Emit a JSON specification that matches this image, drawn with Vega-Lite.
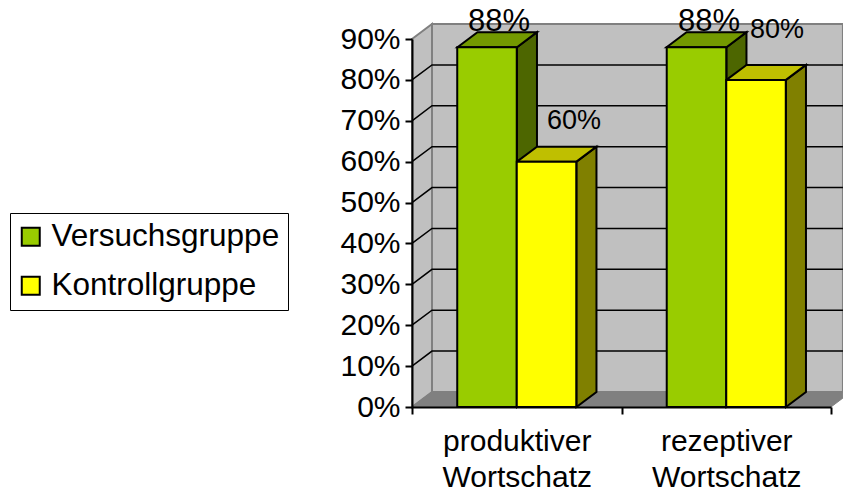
{
"$schema":"https://vega.github.io/schema/vega-lite/v6.json",
"width":419,"height":368,
"autosize":{"type":"none"},
"padding":{"left":412,"top":39,"right":12,"bottom":86},
"background":"white",
"config":{"view":{"stroke":null},"font":"Liberation Sans"},
"datasets":{
"faces":[
{"poly":"floor","x":0,"low":0,"high":0},{"poly":"floor","x":0.0955,"low":0,"high":3.67},{"poly":"floor","x":2,"low":0,"high":3.67},{"poly":"floor","x":2.057,"low":2.2,"high":3.67},
{"poly":"leftwall","x":0,"low":0,"high":90},{"poly":"leftwall","x":0.0955,"low":3.67,"high":93.67},
{"poly":"backwall","x":0.0955,"low":3.67,"high":93.67},{"poly":"backwall","x":2.057,"low":3.67,"high":93.67},
{"poly":"gs1","x":0.501,"low":0,"high":88},{"poly":"gs1","x":0.5965,"low":3.67,"high":91.67},
{"poly":"gs2","x":1.501,"low":0,"high":88},{"poly":"gs2","x":1.5965,"low":3.67,"high":91.67},
{"poly":"ys1","x":0.785,"low":0,"high":60},{"poly":"ys1","x":0.8805,"low":3.67,"high":63.67},
{"poly":"ys2","x":1.785,"low":0,"high":80},{"poly":"ys2","x":1.8805,"low":3.67,"high":83.67},
{"poly":"gt1","x":0.217,"low":88,"high":88},{"poly":"gt1","x":0.3125,"low":88,"high":91.67},{"poly":"gt1","x":0.501,"low":88,"high":91.67},{"poly":"gt1","x":0.5965,"low":91.67,"high":91.67},
{"poly":"gt2","x":1.215,"low":88,"high":88},{"poly":"gt2","x":1.3105,"low":88,"high":91.67},{"poly":"gt2","x":1.501,"low":88,"high":91.67},{"poly":"gt2","x":1.5965,"low":91.67,"high":91.67},
{"poly":"yt1","x":0.501,"low":60,"high":60},{"poly":"yt1","x":0.5965,"low":60,"high":63.67},{"poly":"yt1","x":0.785,"low":60,"high":63.67},{"poly":"yt1","x":0.8805,"low":63.67,"high":63.67},
{"poly":"yt2","x":1.501,"low":80,"high":80},{"poly":"yt2","x":1.5965,"low":80,"high":83.67},{"poly":"yt2","x":1.785,"low":80,"high":83.67},{"poly":"yt2","x":1.8805,"low":83.67,"high":83.67}
],
"grid":[
{"level":10,"x":0,"y":10},{"level":10,"x":0.0955,"y":13.67},{"level":10,"x":2.057,"y":13.67},
{"level":20,"x":0,"y":20},{"level":20,"x":0.0955,"y":23.67},{"level":20,"x":2.057,"y":23.67},
{"level":30,"x":0,"y":30},{"level":30,"x":0.0955,"y":33.67},{"level":30,"x":2.057,"y":33.67},
{"level":40,"x":0,"y":40},{"level":40,"x":0.0955,"y":43.67},{"level":40,"x":2.057,"y":43.67},
{"level":50,"x":0,"y":50},{"level":50,"x":0.0955,"y":53.67},{"level":50,"x":2.057,"y":53.67},
{"level":60,"x":0,"y":60},{"level":60,"x":0.0955,"y":63.67},{"level":60,"x":2.057,"y":63.67},
{"level":70,"x":0,"y":70},{"level":70,"x":0.0955,"y":73.67},{"level":70,"x":2.057,"y":73.67},
{"level":80,"x":0,"y":80},{"level":80,"x":0.0955,"y":83.67},{"level":80,"x":2.057,"y":83.67}
],
"bars":[
{"kategorie":"produktiver Wortschatz","gruppe":"Versuchsgruppe","wert":88},
{"kategorie":"produktiver Wortschatz","gruppe":"Kontrollgruppe","wert":60},
{"kategorie":"rezeptiver Wortschatz","gruppe":"Versuchsgruppe","wert":88},
{"kategorie":"rezeptiver Wortschatz","gruppe":"Kontrollgruppe","wert":80}
],
"labels":[
{"x":0.415,"y":91.9,"text":"88%","size":"big"},
{"x":1.418,"y":91.9,"text":"88%","size":"big"},
{"x":0.773,"y":68,"text":"60%","size":"small"},
{"x":1.742,"y":90.2,"text":"80%","size":"small"}
]
},
"resolve":{"scale":{"x":"independent"}},
"layer":[
{"data":{"name":"faces"},"transform":[{"filter":"datum.poly==='leftwall'||datum.poly==='backwall'"}],
 "mark":{"type":"area","fill":"#c0c0c0","stroke":"#808080","strokeWidth":2},
 "encoding":{"x":{"field":"x","type":"quantitative","scale":{"domain":[0,2],"nice":false,"zero":false},"axis":null},
 "y":{"field":"high","type":"quantitative","scale":{"domain":[0,90],"nice":false,"zero":false},
  "axis":{"title":null,"values":[0,10,20,30,40,50,60,70,80,90],"labelExpr":"datum.value+'%'","labelFontSize":30,"labelColor":"black","labelPadding":5,"tickSize":7,"tickColor":"black","tickWidth":2,"domainColor":"black","domainWidth":2,"grid":false,"zindex":1,"labelFlush":false,"labelOverlap":false}},
 "y2":{"field":"low"},"detail":{"field":"poly"}}},
{"data":{"name":"faces"},"transform":[{"filter":"datum.poly==='floor'"}],
 "mark":{"type":"area","fill":"#808080","stroke":"#808080","strokeWidth":1},
 "encoding":{"x":{"field":"x","type":"quantitative","scale":{"domain":[0,2],"nice":false,"zero":false},"axis":null},"y":{"field":"high","type":"quantitative"},"y2":{"field":"low"}}},
{"data":{"name":"grid"},
 "mark":{"type":"line","stroke":"black","strokeWidth":1.5},
 "encoding":{"x":{"field":"x","type":"quantitative","scale":{"domain":[0,2],"nice":false,"zero":false},"axis":null},"y":{"field":"y","type":"quantitative"},"detail":{"field":"level"}}},
{"data":{"name":"faces"},"transform":[{"filter":"datum.poly==='gs1'||datum.poly==='gs2'"}],
 "mark":{"type":"area","fill":"#4d6600","stroke":"black","strokeWidth":2},
 "encoding":{"x":{"field":"x","type":"quantitative","scale":{"domain":[0,2],"nice":false,"zero":false},"axis":null},"y":{"field":"high","type":"quantitative"},"y2":{"field":"low"},"detail":{"field":"poly"}}},
{"data":{"name":"faces"},"transform":[{"filter":"datum.poly==='ys1'||datum.poly==='ys2'"}],
 "mark":{"type":"area","fill":"#808000","stroke":"black","strokeWidth":2},
 "encoding":{"x":{"field":"x","type":"quantitative","scale":{"domain":[0,2],"nice":false,"zero":false},"axis":null},"y":{"field":"high","type":"quantitative"},"y2":{"field":"low"},"detail":{"field":"poly"}}},
{"data":{"name":"faces"},"transform":[{"filter":"datum.poly==='gt1'||datum.poly==='gt2'"}],
 "mark":{"type":"area","fill":"#739900","stroke":"black","strokeWidth":2},
 "encoding":{"x":{"field":"x","type":"quantitative","scale":{"domain":[0,2],"nice":false,"zero":false},"axis":null},"y":{"field":"high","type":"quantitative"},"y2":{"field":"low"},"detail":{"field":"poly"}}},
{"data":{"name":"faces"},"transform":[{"filter":"datum.poly==='yt1'||datum.poly==='yt2'"}],
 "mark":{"type":"area","fill":"#bfbf00","stroke":"black","strokeWidth":2},
 "encoding":{"x":{"field":"x","type":"quantitative","scale":{"domain":[0,2],"nice":false,"zero":false},"axis":null},"y":{"field":"high","type":"quantitative"},"y2":{"field":"low"},"detail":{"field":"poly"}}},
{"data":{"name":"bars"},
 "mark":{"type":"bar","stroke":"black","strokeWidth":2},
 "encoding":{
 "x":{"field":"kategorie","type":"nominal","scale":{"paddingInner":0,"paddingOuter":0},
  "axis":{"orient":"bottom","title":null,"labelAngle":0,"labelExpr":"split(datum.label,' ')","labelFontSize":30,"labelColor":"black","labelLineHeight":36,"labelPadding":12,"tickBand":"extent","tickSize":7,"tickColor":"black","tickWidth":2,"domainColor":"black","domainWidth":2,"labelLimit":0,"zindex":1}},
 "xOffset":{"field":"gruppe","type":"nominal","sort":["Versuchsgruppe","Kontrollgruppe"],"scale":{"paddingInner":0,"paddingOuter":0.76}},
 "y":{"field":"wert","type":"quantitative"},
 "color":{"field":"gruppe","type":"nominal","sort":["Versuchsgruppe","Kontrollgruppe"],"scale":{"domain":["Versuchsgruppe","Kontrollgruppe"],"range":["#99cc00","#ffff00"]},
  "legend":{"title":null,"orient":"none","legendX":-402,"legendY":174,"strokeColor":"black","fillColor":"white","padding":8,"symbolType":"square","symbolSize":324,"symbolStrokeColor":"black","symbolStrokeWidth":2,"symbolOffset":-3,"labelFontSize":31.5,"labelColor":"black","labelOffset":5,"rowPadding":16,"labelLimit":0,"symbolOpacity":1}}
 }},
{"data":{"name":"labels"},"transform":[{"filter":"datum.size==='big'"}],
 "mark":{"type":"text","fontSize":31,"color":"black","align":"center","baseline":"alphabetic"},
 "encoding":{"x":{"field":"x","type":"quantitative","scale":{"domain":[0,2],"nice":false,"zero":false},"axis":null},"y":{"field":"y","type":"quantitative"},"text":{"field":"text"}}},
{"data":{"name":"labels"},"transform":[{"filter":"datum.size==='small'"}],
 "mark":{"type":"text","fontSize":27,"color":"black","align":"center","baseline":"alphabetic"},
 "encoding":{"x":{"field":"x","type":"quantitative","scale":{"domain":[0,2],"nice":false,"zero":false},"axis":null},"y":{"field":"y","type":"quantitative"},"text":{"field":"text"}}}
]
}
